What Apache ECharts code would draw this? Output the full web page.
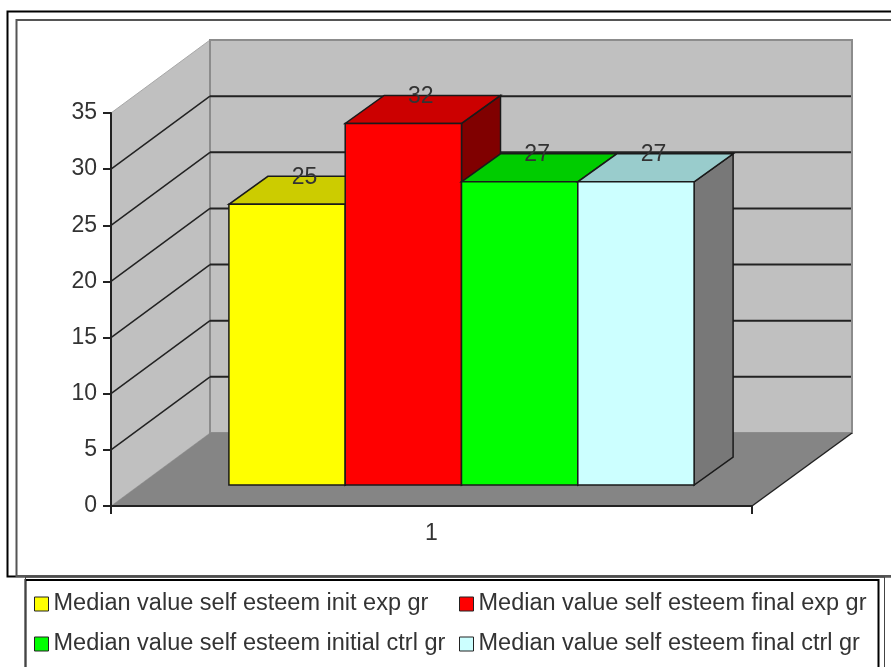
<!DOCTYPE html>
<html>
<head>
<meta charset="utf-8">
<style>
  html, body { margin: 0; padding: 0; background: #fff; }
  #chart { width: 891px; height: 667px; }
</style>
<script src="https://cdn.jsdelivr.net/npm/echarts@6/dist/echarts.min.js"></script>
</head>
<body>
<div id="chart"></div>
<script>
// data
const categories = ["1"];
const seriesNames = [
  "Median value self esteem init exp gr",
  "Median value self esteem final exp gr",
  "Median value self esteem initial ctrl gr",
  "Median value self esteem final ctrl gr"
];
const seriesValues = [25, 32.2, 27, 27];
const yTicks = [0, 5, 10, 15, 20, 25, 30, 35];

// face colours of each bar: front, top, side
const frontColors = ["#ffff00", "#ff0000", "#00ff00", "#ccffff"];
const topColors = ["#cccc00", "#cc0000", "#00cc00", "#99cccc"];
const sideColors = ["#808000", "#800000", "#008000", "#787878"];

// fake 3d projection, in pixels
const DEPTH_X = 99;
const DEPTH_Y = 73;
const BACK_EXTRA = 1;
const BAR_DEPTH_X = 39;
const BAR_DEPTH_Y = 28;
const BAR_SHIFT_X = 30;
const BAR_SHIFT_Y = 21;
const BAR_WIDTH = 116.3;
const FONT = "Liberation Sans";

const myChart = echarts.init(document.getElementById("chart"), null, { renderer: "canvas" });

function poly(points, fill, stroke, lineWidth) {
  return {
    type: "polygon",
    shape: { points: points },
    style: { fill: fill, stroke: stroke || null, lineWidth: lineWidth || 0 }
  };
}

function line(p1, p2, color, lineWidth) {
  return {
    type: "line",
    shape: { x1: p1[0], y1: p1[1], x2: p2[0], y2: p2[1] },
    style: { stroke: color, lineWidth: lineWidth }
  };
}

// side wall, back wall and floor
function renderWalls(params, api) {
  const size = api.size([1, 0])[0];
  const cx = api.coord([0, 0])[0];
  const left = cx - size / 2;
  const right = cx + size / 2;
  const backRight = right + DEPTH_X + BACK_EXTRA;
  const y0 = api.coord([0, 0])[1];
  const yTop = api.coord([0, 35])[1];
  return {
    type: "group",
    children: [
      poly([[left, yTop], [left + DEPTH_X, yTop - DEPTH_Y], [left + DEPTH_X, y0 - DEPTH_Y], [left, y0]], "#c0c0c0", "#a8a8a8", 1),
      poly([[left + DEPTH_X, yTop - DEPTH_Y], [backRight, yTop - DEPTH_Y], [backRight, y0 - DEPTH_Y], [left + DEPTH_X, y0 - DEPTH_Y]], "#c0c0c0", "#8c8c8c", 2),
      poly([[left, y0], [right, y0], [backRight, y0 - DEPTH_Y], [left + DEPTH_X, y0 - DEPTH_Y]], "#858585"),
      line([right, y0], [backRight, y0 - DEPTH_Y], "#222", 1.5)
    ]
  };
}

// one grid line per tick, along the side wall and the back wall
function renderGridLine(params, api) {
  const size = api.size([1, 0])[0];
  const p = api.coord([0, api.value(0)]);
  const left = p[0] - size / 2;
  const right = p[0] + size / 2;
  return {
    type: "group",
    children: [
      line([left, p[1]], [left + DEPTH_X, p[1] - DEPTH_Y], "#222", 1.5),
      line([left + DEPTH_X, p[1] - DEPTH_Y], [right + DEPTH_X, p[1] - DEPTH_Y], "#222", 2)
    ]
  };
}

function renderBar(index) {
  return function (params, api) {
    const val = api.value(1);
    const top = api.coord([api.value(0), val]);
    const bottom = api.coord([api.value(0), 0]);
    const x0 = top[0] + BAR_SHIFT_X + (index - 2) * BAR_WIDTH;
    const x1 = x0 + BAR_WIDTH;
    const y0 = bottom[1] - BAR_SHIFT_Y;
    const y1 = top[1] - BAR_SHIFT_Y;
    const stroke = "#1a1a1a";
    return {
      type: "group",
      children: [
        poly([[x1, y1], [x1 + BAR_DEPTH_X, y1 - BAR_DEPTH_Y], [x1 + BAR_DEPTH_X, y0 - BAR_DEPTH_Y], [x1, y0]], sideColors[index], stroke, 1.5),
        poly([[x0, y1], [x1, y1], [x1 + BAR_DEPTH_X, y1 - BAR_DEPTH_Y], [x0 + BAR_DEPTH_X, y1 - BAR_DEPTH_Y]], topColors[index], stroke, 1.5),
        poly([[x0, y1], [x1, y1], [x1, y0], [x0, y0]], frontColors[index], stroke, 1.5),
        {
          type: "text",
          x: (x0 + x1) / 2 + BAR_DEPTH_X / 2 - 2,
          y: y1 - BAR_DEPTH_Y + 1,
          z2: 50,
          style: {
            text: String(Math.round(val)),
            fill: "#333",
            font: "23px '" + FONT + "'",
            textAlign: "center",
            textVerticalAlign: "middle"
          }
        }
      ]
    };
  };
}

function frameRect(x, y, w, h, color, lineWidth) {
  return {
    type: "rect",
    shape: { x: x, y: y, width: w, height: h },
    style: { fill: null, stroke: color, lineWidth: lineWidth }
  };
}

const series = [
  { type: "custom", silent: true, renderItem: renderWalls, data: [[0]], encode: { x: -1, y: -1 } },
  {
    type: "custom",
    silent: true,
    renderItem: renderGridLine,
    data: yTicks.filter(function (t) { return t > 0 && t < 35; }).map(function (t) { return [t]; }),
    encode: { x: -1, y: 0 }
  }
];
seriesNames.forEach(function (name, i) {
  series.push({
    name: name,
    type: "custom",
    renderItem: renderBar(i),
    itemStyle: { color: frontColors[i] },
    data: [[0, seriesValues[i]]],
    encode: { x: 0, y: 1 }
  });
});

const legendBase = {
  orient: "vertical",
  top: 592,
  itemWidth: 14,
  itemHeight: 14,
  itemGap: 16,
  padding: 0,
  selectedMode: false,
  icon: "rect",
  itemStyle: { borderColor: "#222", borderWidth: 1 },
  textStyle: { fontFamily: FONT, fontSize: 23.5, color: "#333" }
};

const option = {
  animation: false,
  backgroundColor: "#fff",
  textStyle: { fontFamily: FONT },
  grid: { left: 111, right: 139, top: 113, bottom: 161 },
  legend: [
    Object.assign({}, legendBase, { left: 34, data: [seriesNames[0], seriesNames[2]] }),
    Object.assign({}, legendBase, { left: 459, data: [seriesNames[1], seriesNames[3]] })
  ],
  xAxis: {
    type: "category",
    data: categories,
    z: 10,
    axisLine: { lineStyle: { color: "#222", width: 2 } },
    axisTick: { show: true, length: 8, lineStyle: { color: "#222", width: 2 } },
    axisLabel: { color: "#333", fontFamily: FONT, fontSize: 23, margin: 16 }
  },
  yAxis: {
    type: "value",
    min: 0,
    max: 35,
    interval: 5,
    z: 10,
    axisLine: { show: true, lineStyle: { color: "#222", width: 2 } },
    axisTick: { show: true, length: 8, lineStyle: { color: "#222", width: 2 } },
    axisLabel: { color: "#333", fontFamily: FONT, fontSize: 23, margin: 14, padding: [7, 0, 0, 0] },
    splitLine: { show: false }
  },
  graphic: [
    frameRect(7.5, 11.5, 920, 565, "#000", 2),
    frameRect(16.5, 20, 920, 556, "#555", 2),
    frameRect(25.5, 580, 853, 120, "#000", 2),
    frameRect(25.5, 577, 859, 120, "#444", 1)
  ],
  series: series
};

myChart.setOption(option);
</script>
</body>
</html>
